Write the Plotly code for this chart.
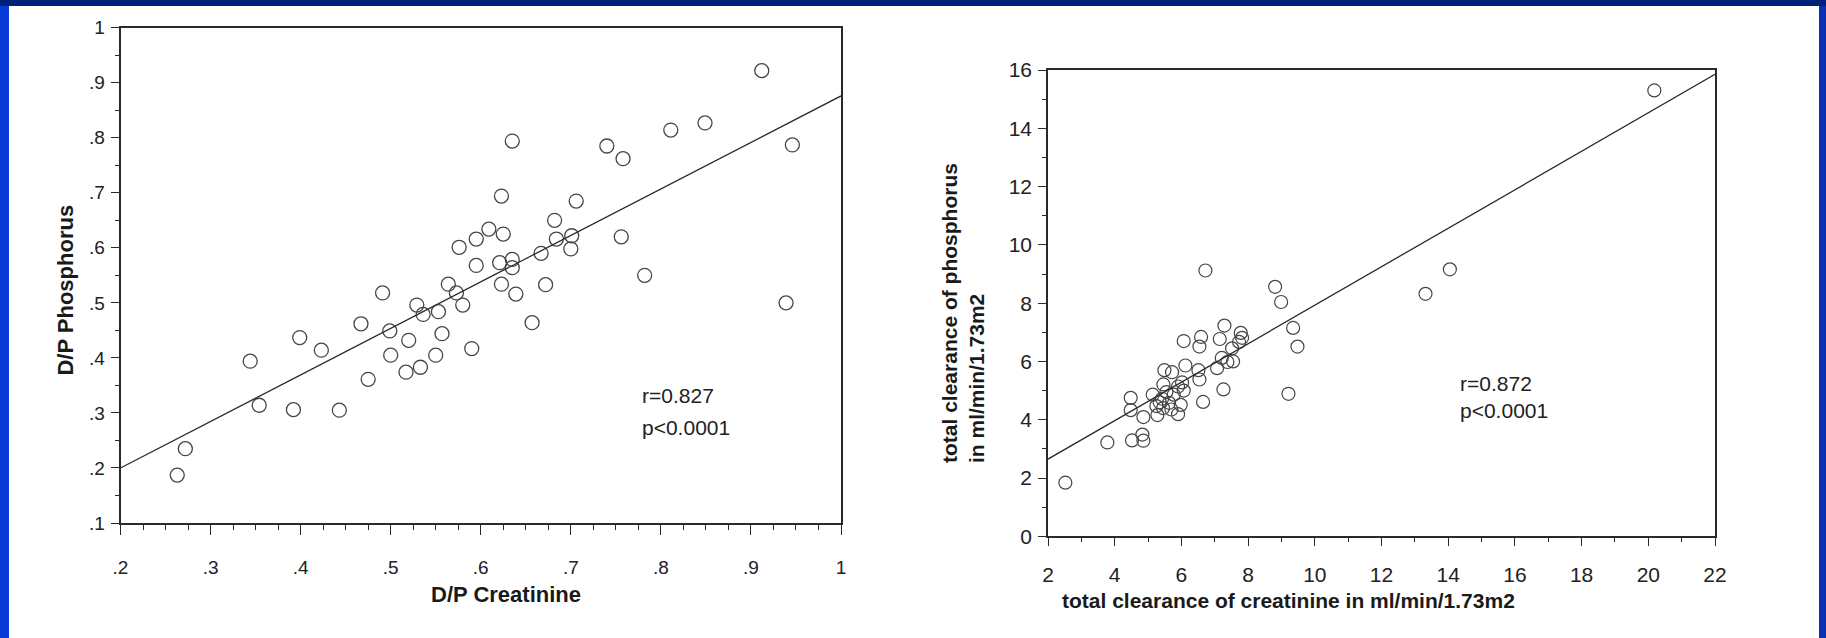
import plotly.graph_objects as go

W, H = 1826, 638

# ---------------- data: left panel (D/P) ----------------
left_x = [0.263, 0.272, 0.344, 0.354, 0.392, 0.399, 0.423, 0.443, 0.467, 0.475,
          0.491, 0.499, 0.500, 0.517, 0.520, 0.529, 0.533, 0.536, 0.550, 0.553,
          0.557, 0.564, 0.573, 0.576, 0.580, 0.590, 0.595, 0.595, 0.609, 0.621,
          0.623, 0.623, 0.625, 0.635, 0.635, 0.635, 0.639, 0.657, 0.667, 0.672,
          0.682, 0.684, 0.700, 0.701, 0.706, 0.740, 0.756, 0.758, 0.782, 0.811,
          0.849, 0.912, 0.939, 0.946]
left_y = [0.187, 0.235, 0.394, 0.314, 0.306, 0.437, 0.414, 0.305, 0.462, 0.361,
          0.518, 0.449, 0.405, 0.374, 0.432, 0.496, 0.383, 0.479, 0.405, 0.484,
          0.444, 0.534, 0.518, 0.601, 0.496, 0.417, 0.568, 0.616, 0.634, 0.573,
          0.534, 0.694, 0.625, 0.579, 0.564, 0.794, 0.516, 0.464, 0.590, 0.533,
          0.650, 0.616, 0.598, 0.622, 0.685, 0.785, 0.620, 0.762, 0.550, 0.814,
          0.827, 0.922, 0.500, 0.787]
left_fit_intercept = 0.031
left_fit_slope = 0.845
left_xrange = [0.2, 1.0]
left_yrange = [0.1, 1.0]
left_xticks = [0.2, 0.3, 0.4, 0.5, 0.6, 0.7, 0.8, 0.9, 1.0]
left_xticktext = [".2", ".3", ".4", ".5", ".6", ".7", ".8", ".9", "1"]
left_yticks = [0.1, 0.2, 0.3, 0.4, 0.5, 0.6, 0.7, 0.8, 0.9, 1.0]
left_yticktext = [".1", ".2", ".3", ".4", ".5", ".6", ".7", ".8", ".9", "1"]
left_stats = ["r=0.827", "p<0.0001"]

# ---------------- data: right panel (total clearance) ----------------
right_x = [2.52, 3.78, 4.48, 4.48, 4.52, 4.83, 4.86, 4.86, 5.14, 5.28,
           5.25, 5.46, 5.49, 5.42, 5.63, 5.72, 5.77, 5.90, 5.90, 5.98,
           6.02, 6.07, 6.12, 6.07, 6.51, 6.54, 6.54, 6.59, 6.65, 6.72,
           7.15, 7.21, 7.07, 7.26, 7.29, 7.38, 7.55, 7.52, 7.73, 7.78,
           7.82, 8.81, 8.99, 9.21, 9.35, 9.48, 13.32, 14.05, 20.18,
           5.35, 5.55, 5.70, 5.45]
right_y = [1.84, 3.22, 4.75, 4.33, 3.29, 3.49, 3.28, 4.09, 4.86, 4.16,
           4.47, 5.21, 5.70, 4.72, 4.58, 5.63, 4.86, 5.14, 4.19, 4.51,
           5.28, 5.00, 5.86, 6.70, 5.70, 5.38, 6.51, 6.84, 4.61, 9.12,
           6.77, 6.12, 5.77, 5.04, 7.23, 5.98, 6.00, 6.45, 6.67, 6.98,
           6.81, 8.56, 8.04, 4.89, 7.15, 6.51, 8.32, 9.16, 15.30,
           4.60, 4.95, 4.35, 4.40]
right_fit_intercept = 1.33
right_fit_slope = 0.66
right_xrange = [2, 22]
right_yrange = [0, 16]
right_stats = ["r=0.872", "p<0.0001"]

# ---------------- styling ----------------
FONT = "Liberation Sans, Arial, Helvetica, sans-serif"
INK = "#2a2a2a"
MARK = "#454545"


def px_x(p):
    return p / W


def px_y(p):
    return 1 - p / H


fig = go.Figure()

fig.add_trace(go.Scatter(
    x=left_x, y=left_y, mode="markers", xaxis="x", yaxis="y",
    marker=dict(symbol="circle-open", size=14, color=MARK, line=dict(width=1.3, color=MARK)),
    showlegend=False, hoverinfo="skip"))
fig.add_trace(go.Scatter(
    x=left_xrange, y=[left_fit_intercept + left_fit_slope * v for v in left_xrange],
    mode="lines", xaxis="x", yaxis="y", line=dict(color=INK, width=1.3),
    showlegend=False, hoverinfo="skip"))

fig.add_trace(go.Scatter(
    x=right_x, y=right_y, mode="markers", xaxis="x2", yaxis="y2",
    marker=dict(symbol="circle-open", size=13, color=MARK, line=dict(width=1.2, color=MARK)),
    showlegend=False, hoverinfo="skip"))
fig.add_trace(go.Scatter(
    x=right_xrange, y=[right_fit_intercept + right_fit_slope * v for v in right_xrange],
    mode="lines", xaxis="x2", yaxis="y2", line=dict(color=INK, width=1.3),
    showlegend=False, hoverinfo="skip"))

axis_common = dict(showline=True, mirror=True, linecolor=INK, linewidth=1.5,
                   showgrid=False, zeroline=False, ticks="outside", tickcolor=INK,
                   tickwidth=1.3, automargin=False)

fig.update_layout(
    template="none",
    width=W, height=H, autosize=False,
    margin=dict(l=0, r=0, t=0, b=0, pad=0, autoexpand=False),
    paper_bgcolor="#0a2fb0", plot_bgcolor="rgba(0,0,0,0)",
    showlegend=False,
    font=dict(family=FONT, color="#222222"),
    xaxis=dict(domain=[px_x(120.5), px_x(841)], range=left_xrange, anchor="y",
               tickvals=left_xticks, ticktext=left_xticktext, ticklen=10,
               tickfont=dict(size=19, color="#222222"), ticklabelstandoff=16,
               minor=dict(dtick=0.025, ticklen=5, ticks="outside", tickcolor=INK, tickwidth=1.1),
               **axis_common),
    yaxis=dict(domain=[px_y(523), px_y(27.7)], range=left_yrange, anchor="x",
               tickvals=left_yticks, ticktext=left_yticktext, ticklen=8,
               tickfont=dict(size=19, color="#222222"), ticklabelstandoff=2,
               minor=dict(dtick=0.05, ticklen=4, ticks="outside", tickcolor=INK, tickwidth=1.1),
               **axis_common),
    xaxis2=dict(domain=[px_x(1048), px_x(1715)], range=right_xrange, anchor="y2",
                tick0=2, dtick=2, ticklen=8,
                tickfont=dict(size=21, color="#222222"), ticklabelstandoff=11,
                minor=dict(dtick=1, ticklen=4, ticks="outside", tickcolor=INK, tickwidth=1.1),
                **axis_common),
    yaxis2=dict(domain=[px_y(536.3), px_y(70)], range=right_yrange, anchor="x2",
                tick0=0, dtick=2, ticklen=8,
                tickfont=dict(size=21, color="#222222"), ticklabelstandoff=2,
                minor=dict(dtick=1, ticklen=4, ticks="outside", tickcolor=INK, tickwidth=1.1),
                **axis_common),
    shapes=[
        dict(type="rect", xref="paper", yref="paper", x0=px_x(9), x1=px_x(1819),
             y0=px_y(638), y1=px_y(6), fillcolor="white", line=dict(width=0), layer="below"),
        dict(type="rect", xref="paper", yref="paper", x0=0, x1=1,
             y0=px_y(6), y1=1, fillcolor="#00207a", line=dict(width=0), layer="below"),
        dict(type="rect", xref="paper", yref="paper", x0=0, x1=px_x(9),
             y0=0, y1=px_y(6), fillcolor="#0a3ad6", line=dict(width=0), layer="below"),
    ],
    annotations=[
        dict(xref="x", yref="y", x=0.777, y=0.331, text=left_stats[0], showarrow=False,
             xanchor="left", yanchor="middle", font=dict(size=21, color="#222222")),
        dict(xref="x", yref="y", x=0.777, y=0.274, text=left_stats[1], showarrow=False,
             xanchor="left", yanchor="middle", font=dict(size=21, color="#222222")),
        dict(xref="x2", yref="y2", x=14.28, y=5.24, text=right_stats[0], showarrow=False,
             xanchor="left", yanchor="middle", font=dict(size=21, color="#222222")),
        dict(xref="x2", yref="y2", x=14.28, y=4.30, text=right_stats[1], showarrow=False,
             xanchor="left", yanchor="middle", font=dict(size=21, color="#222222")),
        dict(xref="paper", yref="paper", x=px_x(505.7), y=px_y(594), text="<b>D/P Creatinine</b>",
             showarrow=False, xanchor="center", yanchor="middle", font=dict(size=22, color="#1a1a1a")),
        dict(xref="paper", yref="paper", x=px_x(66), y=px_y(290.6), text="<b>D/P Phosphorus</b>",
             showarrow=False, textangle=-90, xanchor="center", yanchor="middle",
             font=dict(size=22, color="#1a1a1a")),
        dict(xref="paper", yref="paper", x=px_x(1288), y=px_y(600),
             text="<b>total clearance of creatinine in ml/min/1.73m2</b>",
             showarrow=False, xanchor="center", yanchor="middle", font=dict(size=21, color="#1a1a1a")),
        dict(xref="paper", yref="paper", x=px_x(962.5), y=px_y(313.5),
             text="<b>total clearance of phosphorus<br>in ml/min/1.73m2</b>",
             showarrow=False, textangle=-90, align="left", xanchor="center", yanchor="middle",
             font=dict(size=21, color="#1a1a1a")),
    ],
)

fig.write_html(
    "out.html",
    config={"displayModeBar": False, "responsive": False},
    post_script="document.body.style.margin='0';document.body.style.padding='0';"
                "document.documentElement.style.overflow='hidden';document.body.style.overflow='hidden';",
)
